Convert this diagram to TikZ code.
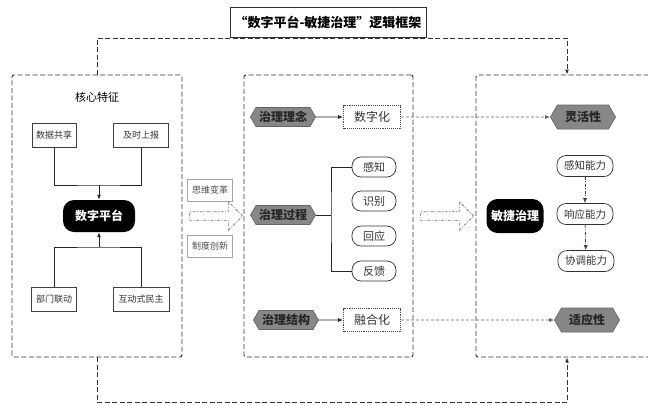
\documentclass[tikz,border=0pt]{standalone}
\usepackage{fontspec}
\setmainfont{Noto Sans CJK SC}
\usetikzlibrary{positioning}
\usetikzlibrary{arrows.meta}
\usetikzlibrary{shapes.symbols,shapes.arrows}

\tikzset{
  frame/.style={draw=black!80, line width=0.9pt, dash pattern=on 5pt off 2.5pt, rounded corners=2pt},
  outline/.style={draw=black!80, line width=0.9pt, dash pattern=on 5pt off 2.5pt},
  plainbox/.style={draw=black!75, line width=0.7pt, fill=white, text=black!80, font=\fontsize{9}{10}\selectfont, minimum height=24pt, inner xsep=2pt},
  sidebox/.style={plainbox, draw=black!35, text=black!70, minimum width=45pt, minimum height=22pt},
  corebox/.style={fill=black, text=white, rounded corners=11pt, font=\bfseries\fontsize{12}{14}\selectfont, minimum height=32pt},
  hexbox/.style={signal, signal to=east and west, signal pointer angle=120, fill=black!47, draw=black!60, line width=0.7pt, text=black!85, font=\bfseries\fontsize{12}{14}\selectfont, minimum height=19pt, minimum width=65pt, inner sep=1pt},
  dotbox/.style={draw=black!70, densely dotted, line width=0.9pt, text=black!80, font=\fontsize{12}{14}\selectfont, minimum width=57pt, minimum height=23pt},
  pillbox/.style={draw=black!80, line width=0.7pt, rounded corners=9pt, text=black!80, font=\fontsize{11}{13}\selectfont, minimum width=44pt, minimum height=20pt},
  capbox/.style={pillbox, font=\fontsize{10.5}{12}\selectfont, minimum width=56pt, minimum height=21pt},
  fatarrow/.style={single arrow, draw=black!55, dash pattern=on 3pt off 1.5pt on 1pt off 1.5pt, line width=0.6pt, minimum height=53pt, minimum width=28pt, inner sep=4pt, single arrow head extend=10pt},
  link/.style={draw=black!85, line width=0.9pt},
  faint/.style={draw=black!60, line width=0.7pt, dash pattern=on 3pt off 2pt},
  dashdot/.style={draw=black!75, line width=0.7pt, dash pattern=on 3pt off 1.5pt on 1pt off 1.5pt},
  tip/.style={-{Latex[length=5pt,width=4pt]}},
}

\begin{document}
\begin{tikzpicture}[x=1pt,y=-1pt]
\useasboundingbox[fill=white] (0,0) rectangle (648,405);

% frames
\node[frame, minimum width=170pt, minimum height=282pt] (leftframe) at (97,216) {};
\node[frame, minimum width=169pt, minimum height=282pt] (midframe) at (328.5,216) {};
\node[frame, minimum width=182pt, minimum height=282pt] (rightframe) at (567,216) {};

% title and outer links
\coordinate (titlefoot) at (328,38);
\draw[outline, tip] (leftframe.north) |- (titlefoot) -| (rightframe.north);
\draw[outline, tip] (leftframe.south) -- ++(0,45) -| (rightframe.south);
\node[draw=black!80, line width=0.8pt, fill=white, font=\bfseries\fontsize{13}{15}\selectfont, minimum width=196pt, minimum height=30pt] (title) at (328,22) {“数字平台-敏捷治理”逻辑框架};

% core features
\node[font=\fontsize{11}{13}\selectfont] (featlabel) at (97,97) {核心特征};
\node[plainbox, minimum width=44pt] (share) at (54,135) {数据共享};
\node[plainbox, minimum width=55pt] (report) at (141,135) {及时上报};
\node[corebox, minimum width=72pt] (platform) at (99,216) {数字平台};
\node[plainbox, minimum width=45pt] (dept) at (54,299) {部门联动};
\node[plainbox, minimum width=56pt] (demo) at (141,299) {互动式民主};
\coordinate (jtop) at (99,185);
\coordinate (jbot) at (99,247);
\draw[link] (share.south) |- (jtop) -| (report.south);
\draw[link, tip] (jtop) -- (platform.north);
\draw[link] (dept.north) |- (jbot) -| (demo.north);
\draw[link, tip] (jbot) -- (platform.south);

% transition
\node[sidebox] (think) at (210,190) {思维变革};
\node[sidebox] (system) at (210,246) {制度创新};
\node[fatarrow] (shiftA) at (214,216) {};
\node[fatarrow] (shiftB) at (445,216) {};

% governance
\node[hexbox] (idea) at (283,117) {治理理念};
\node[dotbox] (digit) at (372,117) {数字化};
\draw[link, tip] (idea) -- (digit);
\node[hexbox] (process) at (283,215) {治理过程};
\node[pillbox] (sense) at (374,167) {感知};
\node[pillbox] (identify) at (374,201) {识别};
\node[pillbox] (respond) at (374,236) {回应};
\node[pillbox] (feedback) at (374,271) {反馈};
\coordinate (trunk) at (331,215);
\draw[link] (process.east) -- (trunk);
\draw[link] (sense.west) -| (trunk) |- (feedback.west);
\node[hexbox] (structure) at (286,320) {治理结构};
\node[dotbox] (fusion) at (372,320) {融合化};
\draw[link, tip] (structure) -- (fusion);

% agile governance
\node[hexbox, minimum height=24pt] (flex) at (583,117) {灵活性};
\node[hexbox, minimum height=24pt] (adapt) at (587,320) {适应性};
\draw[faint, tip] (digit) -- (flex);
\draw[faint, tip] (fusion) -- (adapt);
\node[corebox, minimum width=57pt, minimum height=34pt] (agile) at (515,216) {敏捷治理};
\node[capbox] (sensecap) at (585,166) {感知能力};
\node[capbox] (respcap) at (585,214) {响应能力};
\node[capbox] (coordcap) at (586,261) {协调能力};
\draw[dashdot, tip] (sensecap) -- (respcap);
\draw[dashdot, tip] (respcap) -- (coordcap);
\end{tikzpicture}
\end{document}
